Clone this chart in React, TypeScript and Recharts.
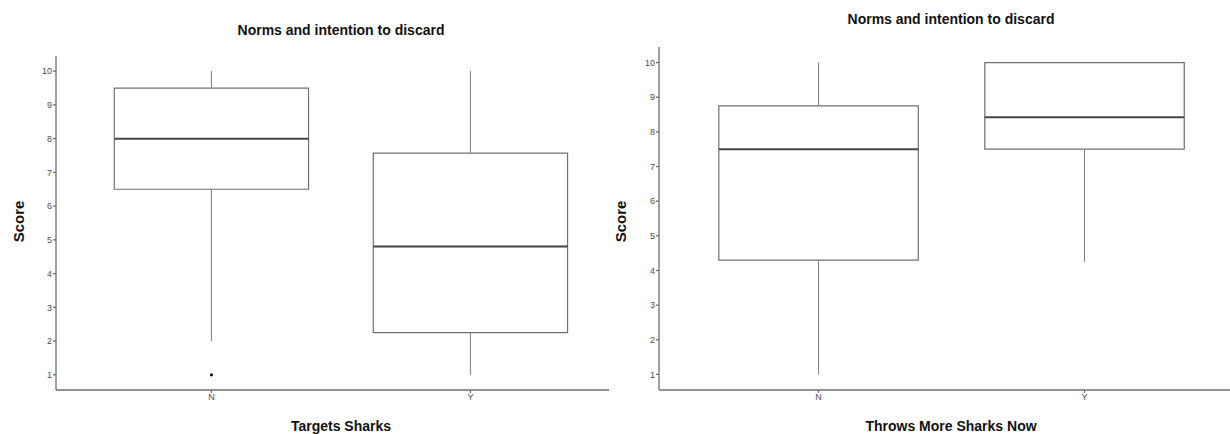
import React from 'react';
import {
  ComposedChart,
  XAxis,
  YAxis,
  ReferenceArea,
  ReferenceLine,
  Scatter,
} from 'recharts';

// shared
const categories = ['N', 'Y'];
const yTicks = [1, 2, 3, 4, 5, 6, 7, 8, 9, 10];

// left panel: Targets Sharks
const leftLow = [2, 1];
const leftQ1 = [6.5, 2.25];
const leftMedian = [8, 4.8];
const leftQ3 = [9.5, 7.57];
const leftHigh = [10, 10];
const leftOutlierCat = ['N'];
const leftOutlierVal = [1];

// right panel: Throws More Sharks Now
const rightLow = [1, 4.25];
const rightQ1 = [4.3, 7.5];
const rightMedian = [7.5, 8.42];
const rightQ3 = [8.75, 10];
const rightHigh = [10, 10];
const rightOutlierCat: string[] = [];
const rightOutlierVal: number[] = [];

const FONT = '"Liberation Sans", Arial, sans-serif';
const BOX_HALF = 0.375;

interface PanelProps {
  title: string;
  xLabel: string;
  low: number[];
  q1: number[];
  median: number[];
  q3: number[];
  high: number[];
  outlierCat: string[];
  outlierVal: number[];
  left: number;
  yAxisWidth: number;
  top: number;
  marginRight: number;
  xMax: number;
  titleTop: number;
  titleCenter: number;
  scoreX: number;
}

function BoxPanel(p: Readonly<PanelProps>) {
  const outliers = p.outlierVal.map((v, i) => ({ x: categories.indexOf(p.outlierCat[i]) + 1, y: v }));

  return (
    <div style={{ position: 'absolute', left: p.left, top: 0, width: 615, height: 434 }}>
      <div
        style={{
          position: 'absolute',
          left: p.titleCenter - 200,
          width: 400,
          top: p.titleTop,
          textAlign: 'center',
          fontWeight: 'bold',
          fontSize: 14,
          color: '#111',
        }}
      >
        {p.title}
      </div>
      <div
        style={{
          position: 'absolute',
          left: p.scoreX - 30,
          top: 213,
          width: 60,
          textAlign: 'center',
          fontWeight: 'bold',
          fontSize: 15,
          color: '#111',
          transform: 'rotate(-90deg)',
        }}
      >
        Score
      </div>
      <div
        style={{
          position: 'absolute',
          left: p.titleCenter - 200,
          width: 400,
          top: 418,
          textAlign: 'center',
          fontWeight: 'bold',
          fontSize: 14,
          color: '#111',
        }}
      >
        {p.xLabel}
      </div>
      <ComposedChart
        width={615}
        height={434}
        margin={{ top: p.top, right: p.marginRight, bottom: 24, left: 0 }}
        style={{ position: 'absolute', left: 0, top: 0 }}
      >
        <XAxis
          type="number"
          dataKey="x"
          domain={[0.4, p.xMax]}
          allowDataOverflow
          ticks={[1, 2]}
          tickFormatter={(v: number) => categories[v - 1]}
          height={20}
          stroke="#6f6f6f"
          strokeWidth={1.3}
          tickSize={3}
          tickMargin={1}
          tick={{ fill: '#4d4d4d', fontSize: 9, fontFamily: FONT }}
        />
        <YAxis
          type="number"
          dataKey="y"
          domain={[0.55, 10.45]}
          allowDataOverflow
          ticks={yTicks}
          width={p.yAxisWidth}
          stroke="#6f6f6f"
          strokeWidth={1.3}
          tickSize={3}
          tickMargin={1}
          tick={{ fill: '#4d4d4d', fontSize: 9, fontFamily: FONT }}
        />
        {categories.map((c, i) => (
          <ReferenceLine
            key={'wl' + c}
            segment={[{ x: i + 1, y: p.low[i] }, { x: i + 1, y: p.q1[i] }]}
            stroke="#7a7a7a"
            strokeWidth={1}
          />
        ))}
        {categories.map((c, i) => (
          <ReferenceLine
            key={'wh' + c}
            segment={[{ x: i + 1, y: p.q3[i] }, { x: i + 1, y: p.high[i] }]}
            stroke="#7a7a7a"
            strokeWidth={1}
          />
        ))}
        {categories.map((c, i) => (
          <ReferenceArea
            key={'box' + c}
            x1={i + 1 - BOX_HALF}
            x2={i + 1 + BOX_HALF}
            y1={p.q1[i]}
            y2={p.q3[i]}
            fill="#ffffff"
            fillOpacity={1}
            stroke="#707070"
            strokeWidth={1.2}
          />
        ))}
        {categories.map((c, i) => (
          <ReferenceLine
            key={'med' + c}
            segment={[{ x: i + 1 - BOX_HALF, y: p.median[i] }, { x: i + 1 + BOX_HALF, y: p.median[i] }]}
            stroke="#454545"
            strokeWidth={2}
          />
        ))}
        <Scatter
          data={outliers}
          isAnimationActive={false}
          shape={(props: any) => <circle cx={props.cx} cy={props.cy} r={1.6} fill="#111" />}
        />
      </ComposedChart>
    </div>
  );
}

export default function App() {
  return (
    <div
      style={{
        position: 'fixed',
        left: 0,
        top: 0,
        width: 1230,
        height: 434,
        background: '#fff',
        fontFamily: FONT,
        overflow: 'hidden',
      }}
    >
      <BoxPanel
        title="Norms and intention to discard"
        xLabel="Targets Sharks"
        low={leftLow}
        q1={leftQ1}
        median={leftMedian}
        q3={leftQ3}
        high={leftHigh}
        outlierCat={leftOutlierCat}
        outlierVal={leftOutlierVal}
        left={0}
        yAxisWidth={56}
        top={56}
        marginRight={6}
        xMax={2.535}
        titleTop={22}
        titleCenter={341}
        scoreX={18}
      />
      <BoxPanel
        title="Norms and intention to discard"
        xLabel="Throws More Sharks Now"
        low={rightLow}
        q1={rightQ1}
        median={rightMedian}
        q3={rightQ3}
        high={rightHigh}
        outlierCat={rightOutlierCat}
        outlierVal={rightOutlierVal}
        left={615}
        yAxisWidth={44}
        top={47}
        marginRight={0}
        xMax={2.547}
        titleTop={11}
        titleCenter={336}
        scoreX={5}
      />
    </div>
  );
}
